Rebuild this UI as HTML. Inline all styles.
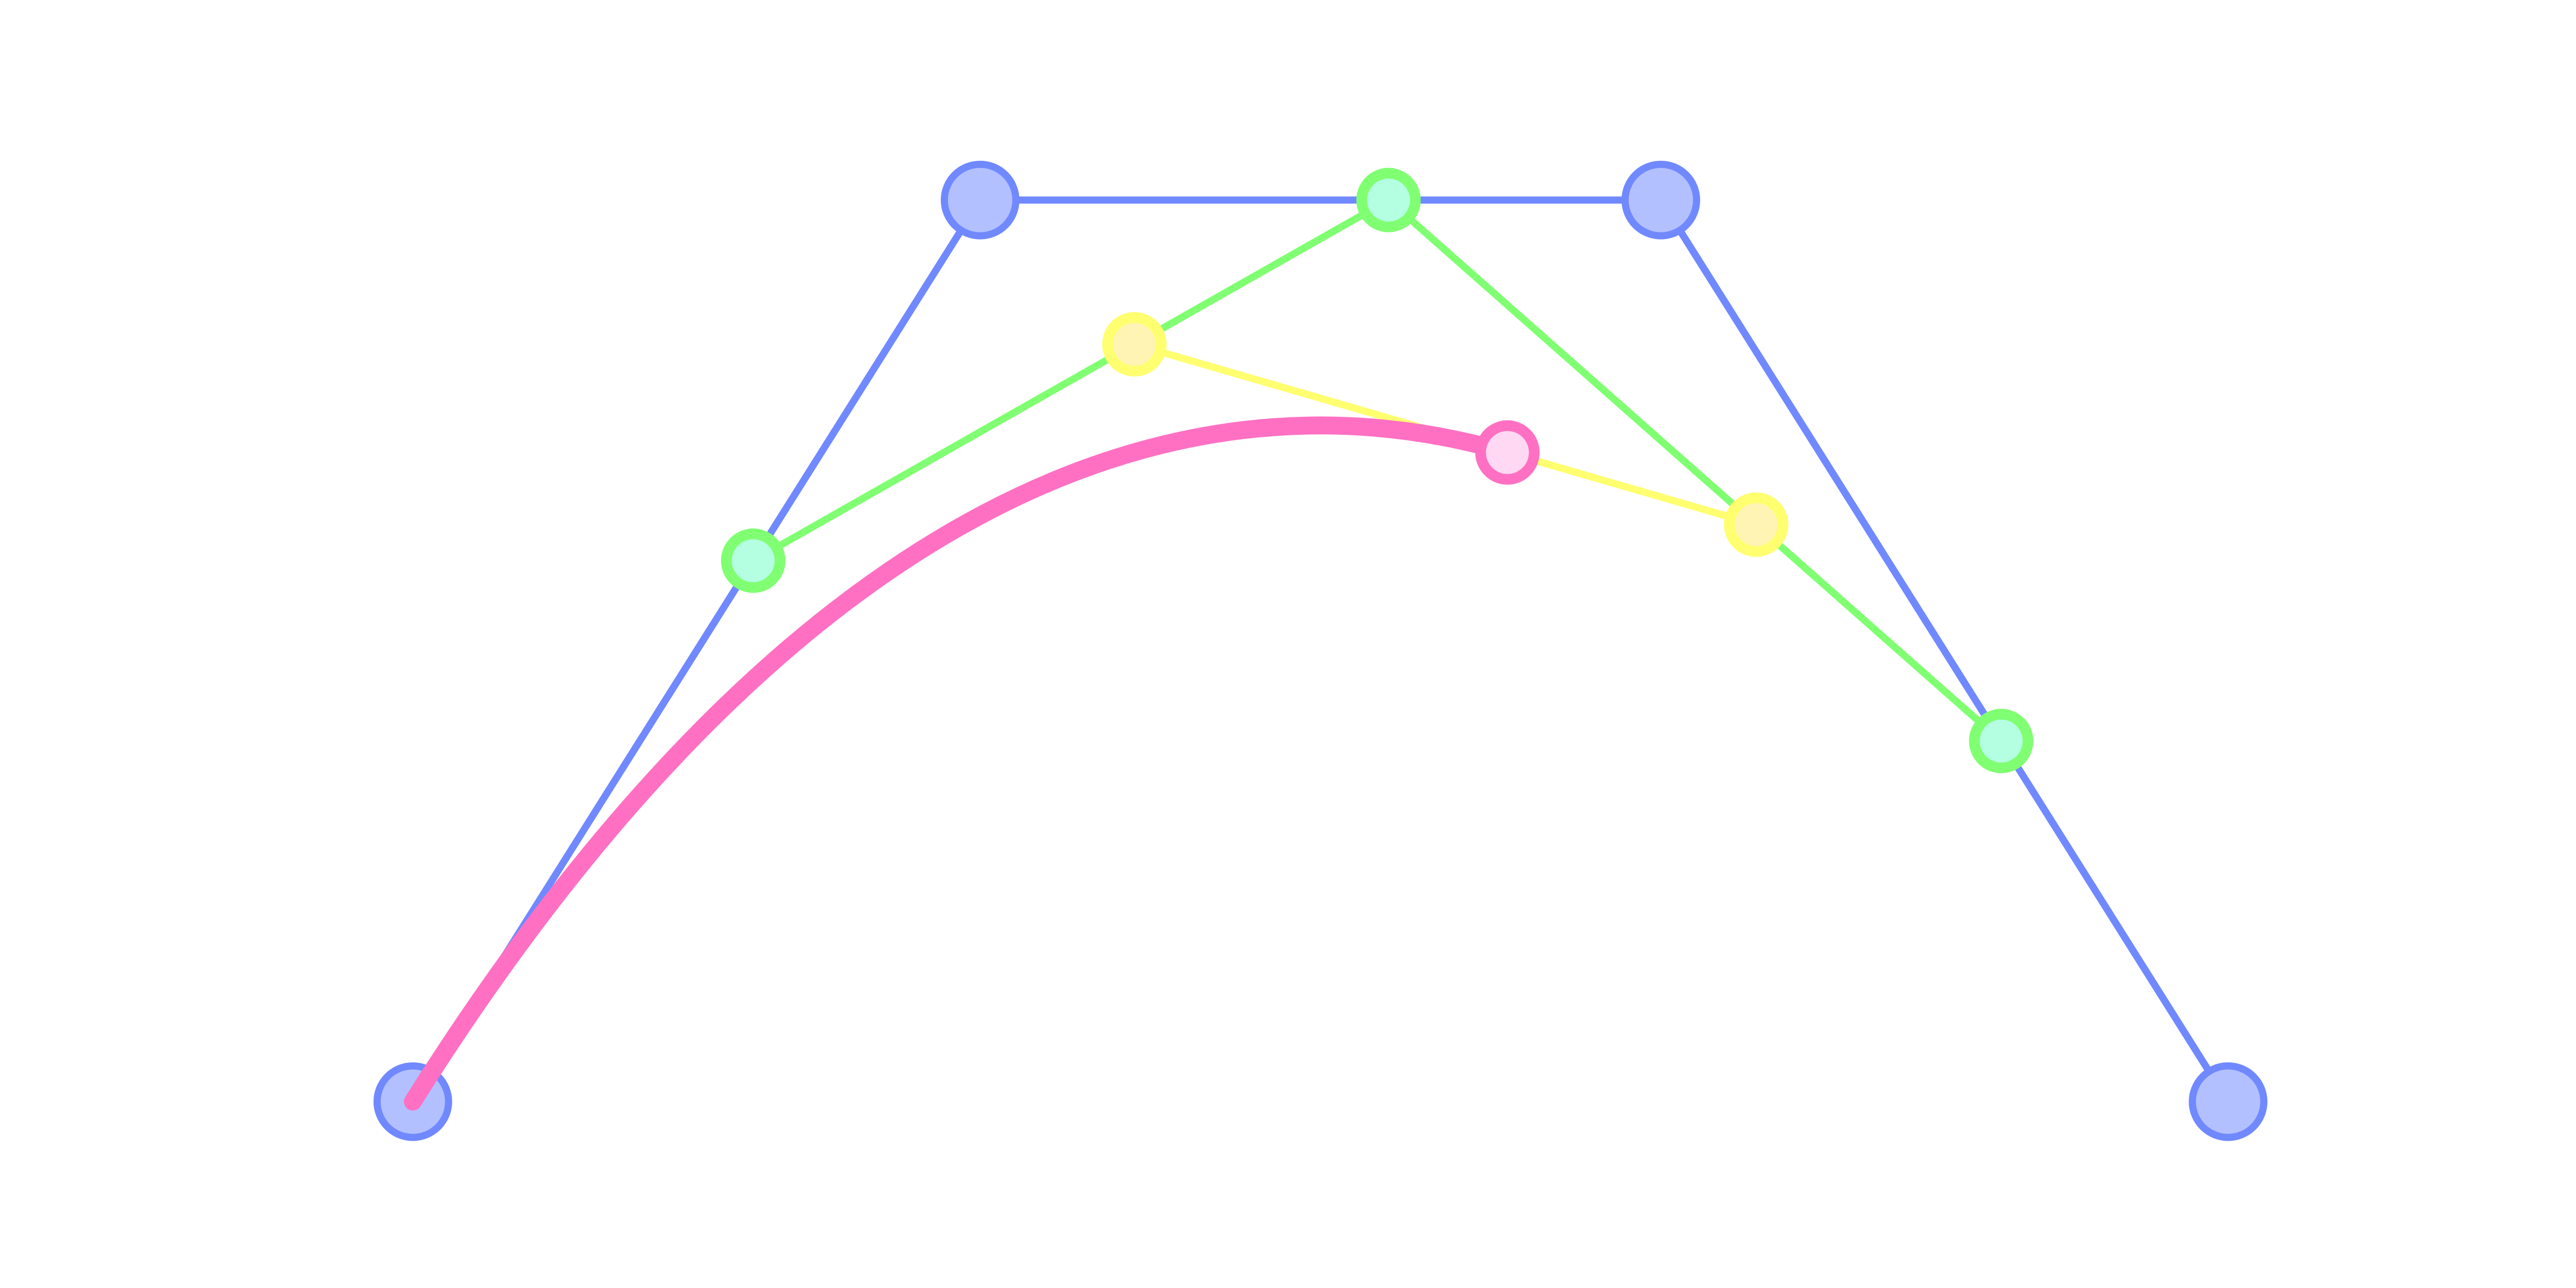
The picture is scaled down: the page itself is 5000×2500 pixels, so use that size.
<!DOCTYPE html>
<html lang="en">
<head>
<meta charset="utf-8">
<title>Cubic Bezier construction</title>
<style>
html,body{margin:0;padding:0;background:#ffffff;width:5000px;height:2500px;overflow:hidden}
svg{display:block}
</style>
</head>
<body>
<svg id="chart" xmlns="http://www.w3.org/2000/svg" width="5000" height="2500" viewBox="0 0 5000 2500"></svg>
<script>
const controlX = [0, 0.3125, 0.6875, 1];
const controlY = [0, 1, 1, 0];
const curveT = [0.6];

const NS = 'http://www.w3.org/2000/svg';
const svg = document.getElementById('chart');
function xScale(v) { return 801.3 + v * 3523.4; }
function yScale(v) { return 2138.3 - v * 1750; }

function lerp(a, b, t) { return a + (b - a) * t; }
function reduceLevel(values) {
  const out = [];
  for (let i = 0; i + 1 < values.length; i++) out.push(lerp(values[i], values[i + 1], curveT[0]));
  return out;
}

const x1 = reduceLevel(controlX), y1 = reduceLevel(controlY);
const x2 = reduceLevel(x1), y2 = reduceLevel(y1);
const x3 = reduceLevel(x2), y3 = reduceLevel(y2);

function drawLevel(level, xs, ys, lineColor, fillColor, radius, ringWidth) {
  const g = document.createElementNS(NS, 'g');
  
  
  svg.appendChild(g);
  if (xs.length > 1) {
    const line = document.createElementNS(NS, 'polyline');
    
    
    line.setAttribute('points', xs.map((v, i) => xScale(v) + ',' + yScale(ys[i])).join(' '));
    line.setAttribute('fill', 'none');
    line.setAttribute('stroke', lineColor);
    line.setAttribute('stroke-width', '13.9');
    g.appendChild(line);
  }
  xs.forEach((v, i) => {
    const c = document.createElementNS(NS, 'circle');
    
    
    c.setAttribute('cx', xScale(v));
    c.setAttribute('cy', yScale(ys[i]));
    c.setAttribute('r', radius);
    c.setAttribute('fill', fillColor);
    c.setAttribute('stroke', lineColor);
    c.setAttribute('stroke-width', ringWidth);
    g.appendChild(c);
  });
}

drawLevel('control', controlX, controlY, '#7189ff', '#b2c0ff', 69.4, 13.9);
drawLevel('first-reduction', x1, y1, '#80ff72', '#b4ffe1', 52.1, 20.8);
drawLevel('second-reduction', x2, y2, '#ffff70', '#fff4b4', 52.1, 20.8);

const curve = document.createElementNS(NS, 'path');


curve.setAttribute('d',
  'M' + xScale(controlX[0]) + ' ' + yScale(controlY[0]) +
  ' C' + xScale(x1[0]) + ' ' + yScale(y1[0]) +
  ' ' + xScale(x2[0]) + ' ' + yScale(y2[0]) +
  ' ' + xScale(x3[0]) + ' ' + yScale(y3[0]));
curve.setAttribute('fill', 'none');
curve.setAttribute('stroke', '#ff70c3');
curve.setAttribute('stroke-width', '34.7');
curve.setAttribute('stroke-linecap', 'round');
svg.appendChild(curve);

drawLevel('curve-point', x3, y3, '#ff70c3', '#ffd8f3', 52.1, 20.8);
</script>
</body>
</html>
